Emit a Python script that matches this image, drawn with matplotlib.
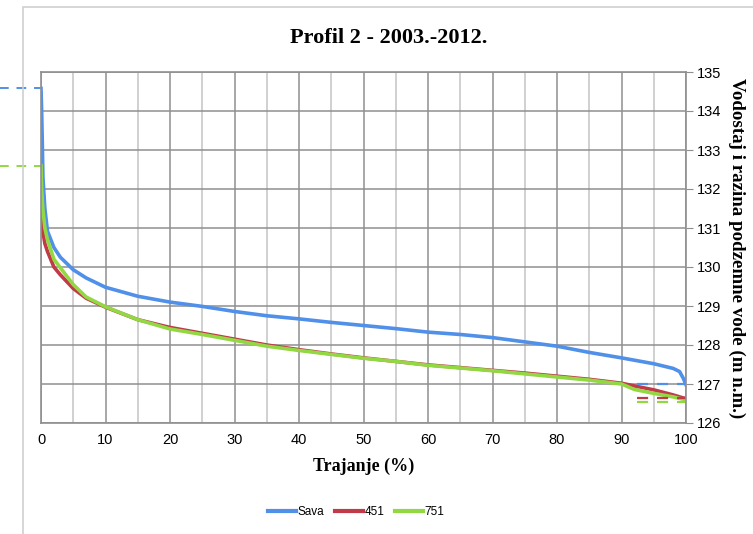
import matplotlib
matplotlib.use("Agg")
import matplotlib.pyplot as plt
from matplotlib.patches import Rectangle
from matplotlib.ticker import MultipleLocator

# trajanje (%) i razine (m n.m.) očitane s krivulja trajanja
trajanje = [0, 0.1, 0.2, 0.3, 0.6, 1, 2, 3, 5, 7, 10, 15, 20, 25, 30, 35, 40, 45,
            50, 55, 60, 65, 70, 75, 80, 85, 90, 92, 95, 98, 99, 99.6, 100]
sava = [134.58, 134.0, 133.2, 132.3, 131.5, 130.92, 130.5, 130.25, 129.93, 129.72,
        129.48, 129.25, 129.1, 128.99, 128.86, 128.75, 128.67, 128.58, 128.5, 128.42,
        128.33, 128.27, 128.19, 128.08, 127.97, 127.81, 127.67, 127.61, 127.52, 127.4,
        127.32, 127.14, 126.98]
p451 = [131.5, 131.3, 131.0, 130.9, 130.6, 130.4, 130.0, 129.8, 129.45, 129.2,
        128.97, 128.65, 128.45, 128.3, 128.15, 128.0, 127.88, 127.77, 127.67, 127.58,
        127.49, 127.42, 127.35, 127.28, 127.2, 127.12, 127.02, 126.95, 126.85, 126.72,
        126.67, 126.64, 126.63]
p751 = [132.6, 132.0, 131.7, 131.45, 131.0, 130.7, 130.2, 129.98, 129.55, 129.23,
        128.98, 128.65, 128.41, 128.27, 128.12, 127.97, 127.86, 127.76, 127.66, 127.58,
        127.48, 127.41, 127.34, 127.26, 127.18, 127.1, 127.0, 126.86, 126.76, 126.67,
        126.63, 126.61, 126.6]

# isprekidane oznake razina
lijevo_razine = [134.58, 132.6]          # Sava, 751
desno_razine = [127.0, 126.65, 126.53]   # Sava, 451, 751
desno_od = 92.4

c_sava = "#5090E8"
c_451 = "#C03A48"
c_751 = "#92D843"

fig = plt.figure(figsize=(7.53, 5.34), dpi=100)
fig.patches.append(Rectangle((23 / 753, -0.1), 1.0, 1.1 - 7 / 534, transform=fig.transFigure,
                             fill=False, edgecolor="#cfcfcf", lw=1.2))
ax = fig.add_axes([41 / 753, 1 - 423 / 534, 645 / 753, 351 / 534])

ax.plot(trajanje, sava, color=c_sava, lw=2.6, label="Sava")
ax.plot(trajanje, p451, color=c_451, lw=2.6, label="451")
ax.plot(trajanje, p751, color=c_751, lw=2.6, label="751")

dash = (0, (5, 4))
ax.plot([-7, 0], [lijevo_razine[0]] * 2, color=c_sava, lw=1.4, ls=dash, clip_on=False)
ax.plot([-7, 0], [lijevo_razine[1]] * 2, color=c_751, lw=1.4, ls=dash, clip_on=False)
for lvl, c in zip(desno_razine, [c_sava, c_451, c_751]):
    ax.plot([desno_od, 100], [lvl, lvl], color=c, lw=1.6, ls=dash)

ax.set_xlim(0, 100)
ax.set_ylim(126, 135)
ax.xaxis.set_major_locator(MultipleLocator(10))
ax.xaxis.set_minor_locator(MultipleLocator(5))
ax.yaxis.set_major_locator(MultipleLocator(1))
ax.grid(which="major", axis="both", color="#8f8f8f", lw=1.1)
ax.grid(which="minor", axis="x", color="#c4c4c4", lw=1.1)
ax.set_axisbelow(True)

ax.yaxis.tick_right()
ax.tick_params(axis="y", which="major", direction="out", length=5, color="#8f8f8f",
               labelsize=10.5, pad=3)
ax.tick_params(axis="x", which="both", length=0, labelsize=10.5, pad=7)
for lab in ax.get_xticklabels() + ax.get_yticklabels():
    lab.set_family("Liberation Sans")
for s in ax.spines.values():
    s.set_color("#8f8f8f")
    s.set_linewidth(1.2)

serif = ["Liberation Serif", "DejaVu Serif"]
fig.text(389 / 753, 1 - 38 / 534, "Profil 2 - 2003.-2012.", ha="center", va="center",
         family=serif, weight="bold", fontsize=16)
fig.text(364 / 753, 1 - 466 / 534, "Trajanje (%)", ha="center", va="center",
         family=serif, weight="bold", fontsize=13)
fig.text(737 / 753, 1 - 248 / 534, "Vodostaj i razina podzemne vode (m n.m.)", rotation=270,
         ha="center", va="center", family=serif, weight="bold", fontsize=13.6)

fig.legend(loc="center", bbox_to_anchor=(356 / 753, 1 - 512 / 534), ncol=3, frameon=False,
           prop={"family": ["Liberation Sans Narrow", "Liberation Sans"], "size": 8.5},
           handlelength=2.4, handletextpad=0.1, columnspacing=0.9)
for ln in fig.legends[0].get_lines():
    ln.set_linewidth(3)

fig.savefig("out.png", dpi=100)
